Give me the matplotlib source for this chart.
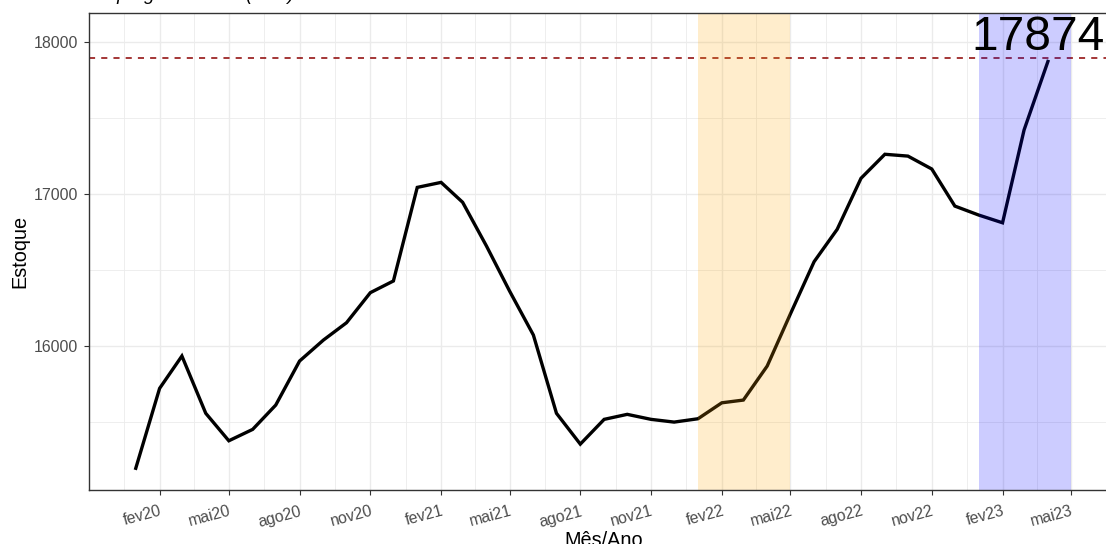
import datetime as dt

import matplotlib
matplotlib.use("Agg")
import matplotlib.dates as mdates
import matplotlib.pyplot as plt
import numpy as np

plt.rcParams["font.family"] = ["Liberation Sans", "DejaVu Sans"]

# ---- data: monthly stock, Jan 2020 - Apr 2023 ----
MONTHS = [dt.date(2020 + (i // 12), i % 12 + 1, 1) for i in range(40)]
ESTOQUE = [
    15196, 15722, 15935, 15558, 15377, 15452, 15612, 15902, 16040, 16154, 16352, 16429,
    17045, 17078, 16947, 16659, 16363, 16073, 15558, 15355, 15518, 15551, 15518, 15500,
    15522, 15627, 15645, 15869, 16210, 16556, 16769, 17105, 17263, 17251, 17166, 16922,
    16863, 16812, 17423, 17874,
]
REF_LINE = 17900
SHADE_ORANGE = (dt.date(2022, 1, 1), dt.date(2022, 5, 1))
SHADE_BLUE = (dt.date(2023, 1, 1), dt.date(2023, 5, 1))

TICK_DATES = [dt.date(2020, 2, 1), dt.date(2020, 5, 1), dt.date(2020, 8, 1), dt.date(2020, 11, 1),
              dt.date(2021, 2, 1), dt.date(2021, 5, 1), dt.date(2021, 8, 1), dt.date(2021, 11, 1),
              dt.date(2022, 2, 1), dt.date(2022, 5, 1), dt.date(2022, 8, 1), dt.date(2022, 11, 1),
              dt.date(2023, 2, 1), dt.date(2023, 5, 1)]
TICK_LABELS = ["fev20", "mai20", "ago20", "nov20", "fev21", "mai21", "ago21", "nov21",
               "fev22", "mai22", "ago22", "nov22", "fev23", "mai23"]
Y_TICKS = [16000, 17000, 18000]
Y_MINOR = [15500, 16500, 17500]

TITLE = "Empregos formais (total)"

GRID = "#EBEBEB"
DARK = "#333333"
TICK_TXT = "#4D4D4D"

# ---- layout (pixels of a 1106x544 canvas) ----
W, H = 1106, 544
x_num = mdates.date2num(MONTHS)
x_lo = mdates.date2num(dt.date(2020, 1, 1))
x_hi = mdates.date2num(dt.date(2023, 5, 1))
pad = 0.05 * (x_hi - x_lo)
xlim = (x_lo - pad, x_hi + pad)
px_per_day = 0.7691
panel_w = (xlim[1] - xlim[0]) * px_per_day

fig = plt.figure(figsize=(W / 100, H / 100), dpi=100)
ax = fig.add_axes([89 / W, (H - 490) / H, panel_w / W, 477 / H])

# grid
major_num = mdates.date2num(TICK_DATES)
edges = np.concatenate([[major_num[0] - 92], major_num, [major_num[-1] + 92]])
minor_num = (edges[:-1] + edges[1:]) / 2
for xv in minor_num:
    ax.axvline(xv, color=GRID, lw=0.6, zorder=0)
for xv in major_num:
    ax.axvline(xv, color=GRID, lw=1.0, zorder=0)
for yv in Y_MINOR:
    ax.axhline(yv, color=GRID, lw=0.6, zorder=0)
for yv in Y_TICKS:
    ax.axhline(yv, color=GRID, lw=1.0, zorder=0)

ax.plot(x_num, ESTOQUE, color="black", lw=2.4, zorder=2, solid_joinstyle="miter")
ax.axhline(REF_LINE, color="#8B0000", lw=1.1, ls=(0, (4, 4)), zorder=2)

ax.axvspan(*mdates.date2num(SHADE_ORANGE), color="orange", alpha=0.2, lw=0, zorder=3)
ax.axvspan(*mdates.date2num(SHADE_BLUE), color="blue", alpha=0.2, lw=0, zorder=3)

ax.annotate(f"{ESTOQUE[-1]}", xy=(x_num[-1], ESTOQUE[-1]), xytext=(-7, 8),
            textcoords="offset points", ha="center", va="baseline",
            fontsize=34.5, color="black", zorder=4, annotation_clip=False)

ax.set_xlim(xlim)
ax.set_ylim(15053, 18193)
ax.set_xticks(major_num)
ax.set_xticklabels(TICK_LABELS, rotation=15, ha="right", rotation_mode="anchor")
ax.set_yticks(Y_TICKS)
ax.tick_params(axis="both", which="major", length=3.8, width=0.8, color=DARK,
               labelsize=11.4, labelcolor=TICK_TXT, pad=4)
ax.tick_params(axis="x", pad=6)

for s in ax.spines.values():
    s.set_color(DARK)
    s.set_linewidth(1.0)
    s.set_zorder(5)

ax.set_xlabel("Mês/Ano", fontsize=14.3, color="black")
ax.xaxis.set_label_coords(0.5, -0.117)
ax.xaxis.label.set_va("baseline")
ax.set_ylabel("Estoque", fontsize=14.3, color="black")
ax.yaxis.set_label_coords((19.5 - 89) / panel_w, 0.5)
ax.yaxis.label.set_va("center")

fig.text(89 / W, 1.0, TITLE, fontsize=13.5, style="italic", ha="left", va="baseline")

fig.savefig("out.png", dpi=100)
